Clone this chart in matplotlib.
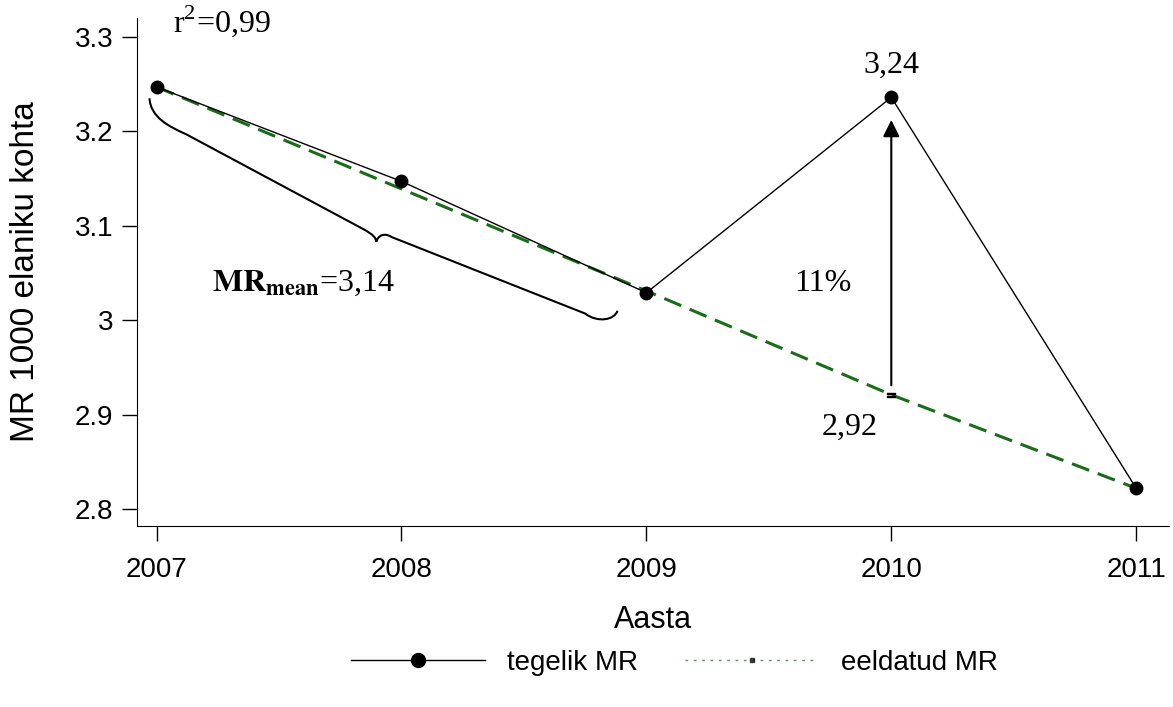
import matplotlib.pyplot as plt
from matplotlib.path import Path
from matplotlib.patches import PathPatch
from matplotlib.lines import Line2D

years = [2007, 2008, 2009, 2010, 2011]
tegelik = [3.247, 3.147, 3.029, 3.236, 2.822]
eeldatud = [3.247, 3.139, 3.031, 2.921, 2.822]

yticks = [2.8, 2.9, 3.0, 3.1, 3.2, 3.3]
ytick_labels = ['2.8', '2.9', '3', '3.1', '3.2', '3.3']

SANS = 'Liberation Sans'
SERIF = 'Liberation Serif'
GREEN = '#1a6b1a'

fig = plt.figure(figsize=(11.73, 7.07), dpi=100)
ax = fig.add_axes([0.1168, 0.256, 0.880, 0.7185])

ax.plot(years, eeldatud, color=GREEN, lw=2.2, ls=(0, (6, 3)), zorder=2)
ax.plot(years[3], eeldatud[3], marker='$=$', color='black', ms=6, zorder=3)
ax.plot(years, tegelik, color='black', lw=1, marker='o', ms=9,
        zorder=4)

ax.set_xlim(2006.92, 2011.135)
ax.set_ylim(2.782, 3.32)
ax.set_xticks(years)
ax.set_xticklabels([str(y) for y in years], fontsize=20, family=SANS)
ax.set_yticks(yticks)
ax.set_yticklabels(ytick_labels, fontsize=20, family=SANS)
ax.tick_params(direction='out', length=11, width=1, pad=6)
ax.tick_params(axis='x', pad=11)
for s in ['top', 'right']:
    ax.spines[s].set_visible(False)
ax.set_xlabel('Aasta', fontsize=22, family=SANS, labelpad=16)
ax.set_ylabel('MR 1000 elaniku kohta', fontsize=24, family=SANS,
              labelpad=24)

# arrow from expected to actual in 2010
ax.annotate('', xy=(2010, 3.212), xytext=(2010, 2.931),
            arrowprops=dict(arrowstyle='-|>', color='black', lw=1.5,
                            mutation_scale=25, shrinkA=0, shrinkB=0))

ax.text(2007.065, 3.317, r'r$^{\mathregular{2}}$=0,99', fontsize=23,
        family=SERIF, va='center', ha='left')
ax.text(2010, 3.27, '3,24', fontsize=23, family=SERIF, ha='center',
        va='center')
ax.text(2009.72, 3.039, '11%', fontsize=23, family=SERIF, ha='center',
        va='center')
ax.text(2009.83, 2.886, '2,92', fontsize=23, family=SERIF, ha='center',
        va='center')
ax.text(2007.225, 3.039, r'$\mathbf{MR}_{\mathbf{mean}}$=3,14', fontsize=23,
        family=SERIF, ha='left', va='center', math_fontfamily='stix')

# curly brace under 2007-2009
verts = [(2006.971, 3.235),
         (2006.975, 3.215), (2007.05, 3.205), (2007.12, 3.197),
         (2007.84, 3.097),
         (2007.89, 3.090), (2007.895, 3.087), (2007.897, 3.083),
         (2007.905, 3.090), (2007.93, 3.093), (2007.96, 3.088),
         (2008.75, 3.007),
         (2008.80, 2.997), (2008.87, 3.000), (2008.882, 3.010)]
codes = [Path.MOVETO,
         Path.CURVE4, Path.CURVE4, Path.CURVE4,
         Path.LINETO,
         Path.CURVE4, Path.CURVE4, Path.CURVE4,
         Path.CURVE4, Path.CURVE4, Path.CURVE4,
         Path.LINETO,
         Path.CURVE4, Path.CURVE4, Path.CURVE4]
ax.add_patch(PathPatch(Path(verts, codes), fill=False, lw=1.5,
                       edgecolor='black', clip_on=False))

handles = [Line2D([], [], color='black', lw=1, marker='o', ms=10),
           Line2D([], [], color=GREEN, lw=1, ls=(0, (2, 4)), alpha=0.7,
                  marker='s', mfc='black', mec='black', ms=3)]
fig.legend(handles, ['tegelik MR', 'eeldatud MR'], loc='center',
           bbox_to_anchor=(0.575, 0.062), ncol=2, frameon=False,
           prop={'family': SANS, 'size': 20}, handlelength=4.8,
           columnspacing=1.7, handletextpad=0.8)

fig.savefig('out.png', dpi=100)
